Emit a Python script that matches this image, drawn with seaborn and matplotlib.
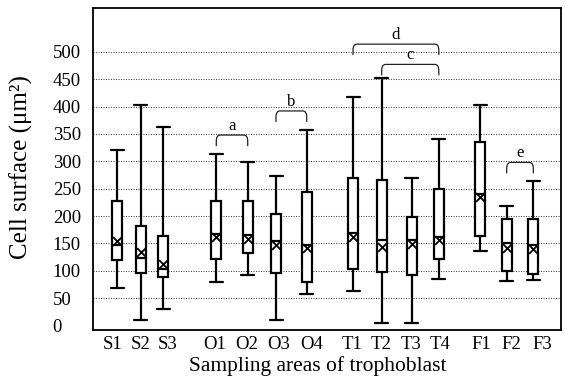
import numpy as np
import pandas as pd
import matplotlib
matplotlib.use("Agg")
import matplotlib.pyplot as plt
from matplotlib.path import Path
from matplotlib.patches import PathPatch
import seaborn as sns

# ---- data ----
areas   = ["S1", "S2", "S3", "O1", "O2", "O3", "O4", "T1", "T2", "T3", "T4", "F1", "F2", "F3"]
mins    = [68, 10, 30, 80, 93, 10, 57, 64, 5, 5, 86, 137, 81, 83]
q1s     = [119, 96, 88, 121, 132, 97, 79, 103, 98, 92, 122, 164, 100, 95]
medians = [147, 124, 103, 168, 165, 155, 147, 169, 157, 156, 162, 241, 150, 147]
q3s     = [227, 182, 164, 228, 228, 203, 244, 269, 266, 199, 249, 335, 194, 194]
maxs    = [320, 402, 362, 313, 298, 273, 357, 417, 452, 270, 340, 402, 218, 264]
means   = [155, 134, 113, 161, 158, 148, 141, 162, 144, 149, 156, 235, 141, 140]

yticks = [0, 50, 100, 150, 200, 250, 300, 350, 400, 450, 500]

# significance brackets
br_from    = ["O1", "O3", "T2", "T1", "F2"]
br_to      = ["O2", "O4", "T4", "T4", "F3"]
br_level   = [348, 392, 477, 514, 298]
br_letters = ["a", "b", "c", "d", "e"]

# ---- layout (horizontal positions, in pixel-like units) ----
positions = [117.3, 140.7, 163.3, 216.3, 247.7, 276.0, 306.7,
             353.0, 381.7, 411.7, 438.8, 480.0, 506.7, 533.3]
label_positions = [113, 140.5, 168, 215, 246.5, 279, 312,
                   352, 381, 411, 440, 481, 511.5, 542]
pos = dict(zip(areas, positions))

rows = []
for a, p, mn, a1, md, a3, mx in zip(areas, positions, mins, q1s, medians, q3s, maxs):
    for v in (mn, a1, md, a3, mx):
        rows.append({"area": a, "x": p, "value": v})
df = pd.DataFrame(rows)

sns.set_theme(style="white")
plt.rcParams["font.family"] = ["Liberation Serif", "DejaVu Serif"]

fig = plt.figure(figsize=(5.65, 3.84), dpi=100)
ax = fig.add_axes([93 / 565, 54 / 384, 468 / 565, 322 / 384])

lw = 1.6
box_w = 10.0
cap_w = 13.0
sns.boxplot(data=df, x="x", y="value", native_scale=True, width=box_w / 23.4,
            whis=(0, 100), fill=True, color="white", linecolor="black",
            linewidth=lw, showfliers=False, ax=ax,
            boxprops=dict(facecolor="white", edgecolor="black", linewidth=lw),
            whiskerprops=dict(color="black", linewidth=lw),
            capprops=dict(color="black", linewidth=lw),
            medianprops=dict(color="black", linewidth=lw))

# widen the whisker caps (they are wider than the boxes in the reference)
for ln in ax.lines:
    xd = np.asarray(ln.get_xdata(), dtype=float)
    yd = np.asarray(ln.get_ydata(), dtype=float)
    if len(xd) == 2 and yd[0] == yd[1] and abs(xd[1] - xd[0]) < box_w * 0.9:
        if yd[0] in mins or yd[0] in maxs:
            c = xd.mean()
            ln.set_xdata([c - cap_w / 2, c + cap_w / 2])

mean_df = pd.DataFrame({"x": positions, "mean": means})
sns.scatterplot(data=mean_df, x="x", y="mean", marker="x", s=40, color="black",
                linewidth=1.3, zorder=5, ax=ax)

ax.set_xlim(93, 561)
ax.set_ylim(-8, 580)
ax.set_yticks(yticks)
ax.set_yticklabels([str(t) for t in yticks], ha="left")
ax.set_xticks(label_positions)
ax.set_xticklabels(areas)
ax.tick_params(axis="both", length=0, labelsize=13.5, colors="black")
ax.tick_params(axis="y", pad=29)
ax.tick_params(axis="x", pad=4)

ax.yaxis.grid(True, linestyle=(0, (1, 1.4)), linewidth=0.75, color="#444444")
ax.xaxis.grid(False)
ax.set_axisbelow(True)
for gl, t in zip(ax.get_ygridlines(), yticks):
    if t == 0:
        gl.set_visible(False)

for s in ax.spines.values():
    s.set_color("black")
    s.set_linewidth(1.3)

ax.set_ylabel("Cell surface (μm²)", fontsize=18, color="black")
ax.set_xlabel("Sampling areas of trophoblast", fontsize=15.5, color="black")
ax.yaxis.set_label_coords((33 - 93) / 468, 0.506)
ax.xaxis.set_label_coords((318 - 93) / 468, -0.082)

# brackets
leg = 20.0   # leg length in data units
rx, ry = 4.0, 11.0
for f, t, lev, letter in zip(br_from, br_to, br_level, br_letters):
    x1, x2 = pos[f], pos[t]
    verts = [(x1, lev - leg), (x1, lev - ry), (x1, lev), (x1 + rx, lev),
             (x2 - rx, lev), (x2, lev), (x2, lev - ry), (x2, lev - leg)]
    codes = [Path.MOVETO, Path.LINETO, Path.CURVE3, Path.CURVE3,
             Path.LINETO, Path.CURVE3, Path.CURVE3, Path.LINETO]
    ax.add_patch(PathPatch(Path(verts, codes), fill=False, edgecolor="#222222",
                           linewidth=0.9, zorder=6))
    ax.text((x1 + x2) / 2, lev + 2, letter, ha="center", va="bottom",
            fontsize=12, color="black", zorder=6)

if ax.get_legend() is not None:
    ax.get_legend().remove()

fig.savefig("out.png", dpi=100)
